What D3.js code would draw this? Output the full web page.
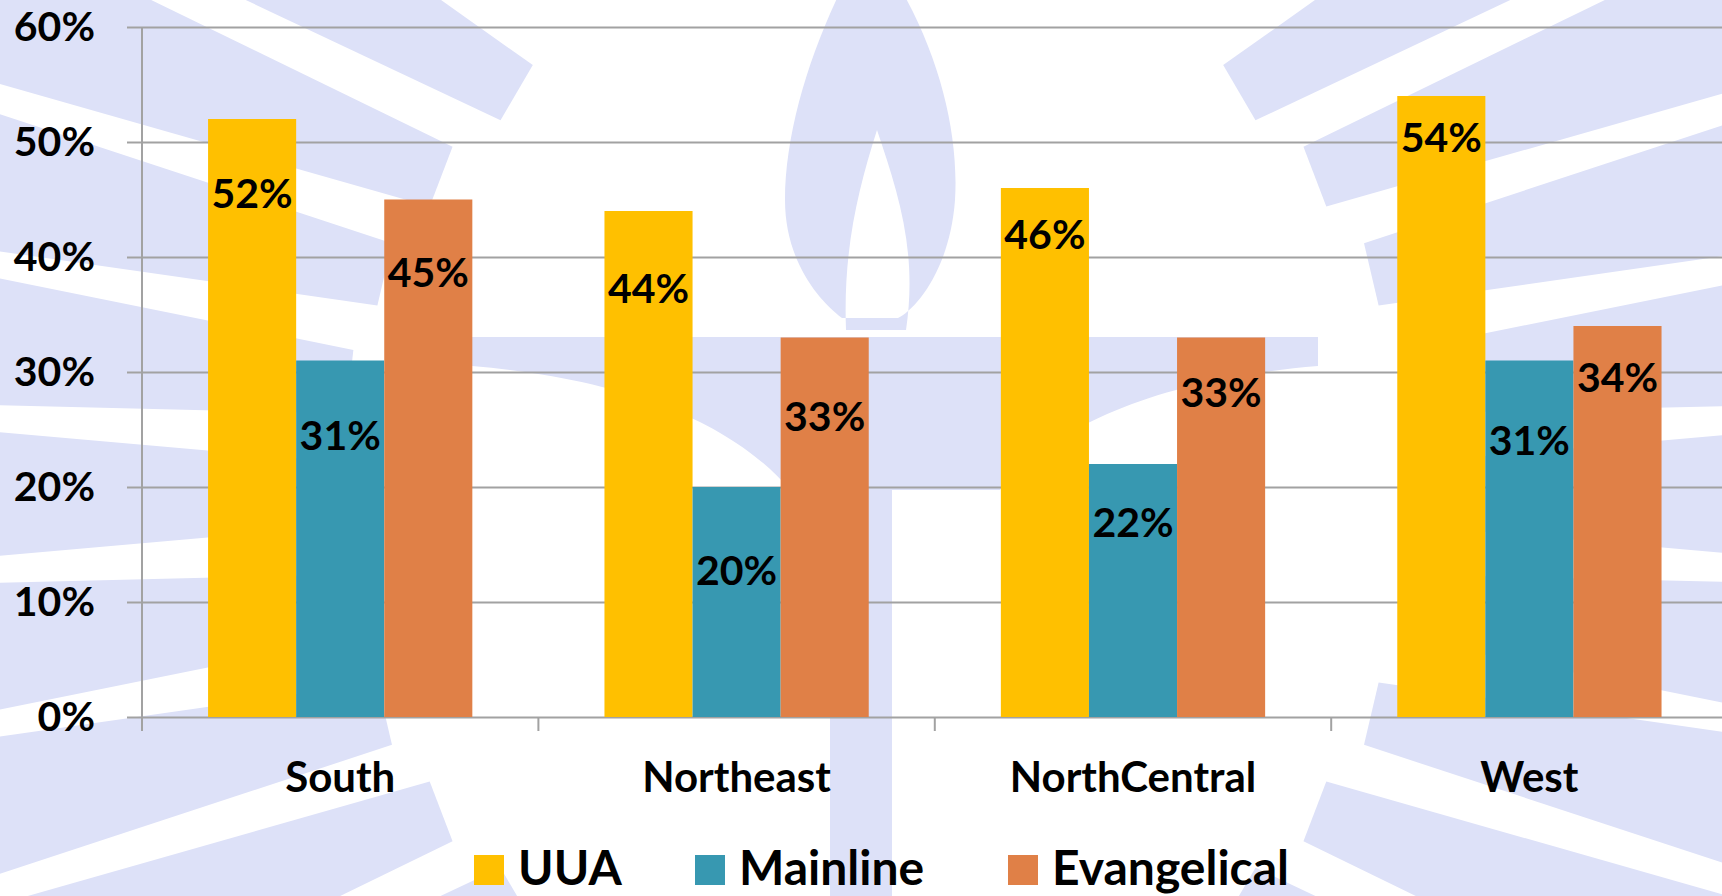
<!DOCTYPE html>
<html>
<head>
<meta charset="utf-8">
<script src="https://cdn.jsdelivr.net/npm/d3@7"></script>
<style>
  html, body { margin: 0; padding: 0; background: #ffffff; }
  svg { display: block; }
  text { font-family: Lato, "Open Sans", sans-serif; font-weight: bold; fill: #000; }
</style>
</head>
<body>
<svg id="chart" width="1722" height="896"></svg>
<script>
// chart values
const categories = ["South", "Northeast", "NorthCentral", "West"];
const seriesNames = ["UUA", "Mainline", "Evangelical"];
const uuaValues = [0.52, 0.44, 0.46, 0.54];
const mainlineValues = [0.31, 0.20, 0.22, 0.31];
const evangelicalValues = [0.45, 0.33, 0.33, 0.34];
const yTicks = [0, 0.1, 0.2, 0.3, 0.4, 0.5, 0.6];

const seriesColours = ["#ffc000", "#3798b1", "#e08047"];
// label centre, px below top of bar (labels were hand placed in the original)
const labelNudge = [[74, 75, 73], [77, 83, 79], [46, 58, 55], [41, 80, 51]];
const legendX = [474, 695, 1008];

const width = 1722, height = 896;
const margin = { top: 27, left: 142, bottom: 179 };

const svg = d3.select("#chart");

// faint logo in the background
function drawWatermark() {
  let wm = svg.append("g").attr("class", "watermark").attr("fill", "#dde1f8");

  let cx = 878, cy = 494, r1 = 540, k = 1.9, len = 1000;
  for (let phi = -180; phi < 180; phi += 12) {
    if ((phi > -128 && phi < -52) || (phi > 52 && phi < 128)) continue;
    let a = phi * Math.PI / 180;
    let p0 = [cx + r1 * Math.cos(a), cy + r1 * Math.sin(a)];
    let psi = Math.atan2(Math.sin(a), k * Math.cos(a));
    let u = [Math.cos(psi), Math.sin(psi)], n = [-Math.sin(psi), Math.cos(psi)];
    let w0 = 32, w1 = 120;
    let p1 = [p0[0] + u[0] * len, p0[1] + u[1] * len];
    wm.append("path")
      .attr("d", "M" + (p0[0] + n[0] * w0) + "," + (p0[1] + n[1] * w0)
        + "L" + (p1[0] + n[0] * w1) + "," + (p1[1] + n[1] * w1)
        + "L" + (p1[0] - n[0] * w1) + "," + (p1[1] - n[1] * w1)
        + "L" + (p0[0] - n[0] * w0) + "," + (p0[1] - n[1] * w0) + "Z");
  }

  // flame
  wm.append("path")
    .attr("fill-rule", "evenodd")
    .attr("d", "M868,-60 C930,20 960,120 955,200 C950,270 915,310 898,318 L842,318 C818,300 785,260 785,200 C785,120 820,20 868,-60 Z"
      + " M877,130 C897,190 918,250 906,330 L846,330 C843,250 858,190 877,130 Z");

  // cup and stem
  wm.append("path")
    .attr("d", "M472,337 L1318,337 L1318,366 C1150,380 1050,430 1000,490 L790,490 C740,430 640,380 472,366 Z");
  wm.append("rect")
    .attr("x", 830).attr("y", 480).attr("width", 62).attr("height", height - 480);
}

drawWatermark();

const y = d3.scaleLinear()
  .domain([0, 0.6])
  .range([height - margin.bottom, margin.top]);

const x0 = d3.scaleBand()
  .domain(categories)
  .range([margin.left, margin.left + 4 * 396.4]);

const x1 = d3.scaleBand()
  .domain(seriesNames)
  .range([0, x0.bandwidth()])
  .paddingOuter(0.75);

const y0 = y(0);

// gridlines
svg.append("g")
  .attr("class", "grid")
  .attr("transform", "translate(" + margin.left + ",0)")
  .call(d3.axisLeft(y).tickValues(yTicks).tickSize(-(width - margin.left)).tickFormat(""))
  .call(g => g.select(".domain").remove())
  .call(g => g.selectAll("line").attr("stroke", "#a2a2a2").attr("stroke-width", 2));

// y axis with short outer ticks and labels
svg.append("g")
  .attr("class", "y-axis")
  .attr("transform", "translate(" + margin.left + ",0)")
  .call(d3.axisLeft(y).tickValues(yTicks).tickSize(15).tickPadding(32).tickFormat(d3.format(".0%")))
  .call(g => g.select(".domain").remove())
  .call(g => g.selectAll("line").attr("stroke", "#a2a2a2").attr("stroke-width", 2))
  .call(g => g.selectAll("text")
    .style("font-size", "41px")
    .attr("fill", "#000"));

// bars
const table = categories.map((c, i) => ({
  category: c,
  values: [uuaValues[i], mainlineValues[i], evangelicalValues[i]]
}));

const groups = svg.append("g")
  .selectAll(".group")
    .data(table)
  .enter().append("g")
    .classed("group", true)
    .attr("transform", d => "translate(" + x0(d.category) + ",0)");

groups.selectAll("rect")
    .data(d => d.values.map((v, j) => ({ series: seriesNames[j], value: v, j: j })))
  .enter().append("rect")
    .attr("x", d => x1(d.series))
    .attr("y", d => y(d.value))
    .attr("width", x1.bandwidth())
    .attr("height", d => y0 - y(d.value))
    .attr("fill", d => seriesColours[d.j]);

groups.each(function(d, i) {
  d3.select(this).selectAll(".value")
      .data(d.values)
    .enter().append("text")
      .classed("value", true)
      .attr("x", (v, j) => x1(seriesNames[j]) + x1.bandwidth() / 2)
      .attr("y", (v, j) => y(v) + labelNudge[i][j])
      .attr("dy", "0.36em")
      .attr("text-anchor", "middle")
      .style("font-size", "41px")
      .text(v => d3.format(".0%")(v));
});

// category axis: vertical line, boundary ticks, labels
svg.append("line")
  .attr("x1", margin.left).attr("x2", margin.left)
  .attr("y1", y(0.6)).attr("y2", y0 + 14)
  .attr("stroke", "#a2a2a2").attr("stroke-width", 2);

svg.append("g")
  .selectAll("line")
    .data(categories.slice(1).concat(["end"]))
  .enter().append("line")
    .attr("x1", (c, i) => x0.range()[0] + (i + 1) * x0.step())
    .attr("x2", (c, i) => x0.range()[0] + (i + 1) * x0.step())
    .attr("y1", y0).attr("y2", y0 + 14)
    .attr("stroke", "#a2a2a2").attr("stroke-width", 2);

svg.append("g")
  .attr("class", "x-axis")
  .attr("transform", "translate(0," + y0 + ")")
  .call(d3.axisBottom(x0).tickSize(0).tickPadding(45))
  .call(g => g.select(".domain").remove())
  .call(g => g.selectAll("text").style("font-size", "42px").attr("fill", "#000"));

// legend
const legend = svg.append("g")
  .selectAll(".legend")
    .data(seriesNames)
  .enter().append("g")
    .classed("legend", true)
    .attr("transform", (d, i) => "translate(" + legendX[i] + ",870)");

legend.append("rect")
  .attr("x", 0).attr("y", -15)
  .attr("width", 30).attr("height", 30)
  .attr("fill", (d, i) => seriesColours[i]);

legend.append("text")
  .attr("x", 44)
  .attr("y", 15)
  .style("font-size", "48px")
  .text(d => d);
</script>
</body>
</html>
